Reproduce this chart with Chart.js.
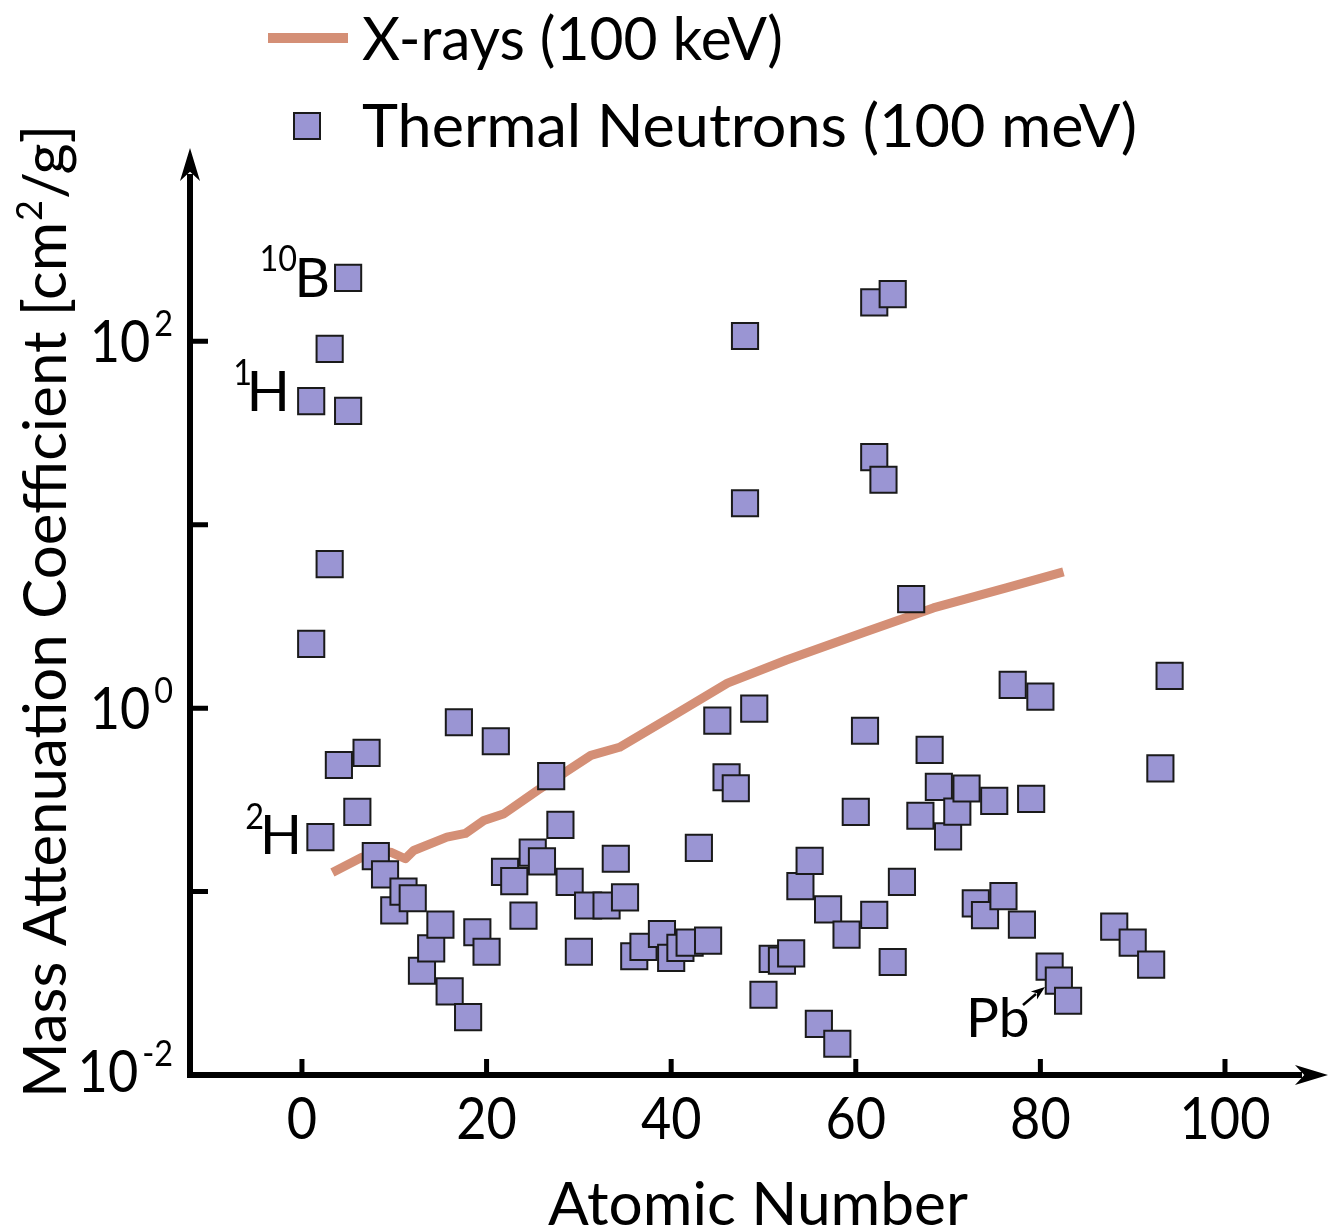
<!DOCTYPE html>
<html>
<head>
<meta charset="utf-8">
<script src="https://cdn.jsdelivr.net/npm/chart.js@4.4.0/dist/chart.umd.min.js"></script>
<style>
  body { margin: 0; background: #fff; }
  canvas { display: block; }
</style>
</head>
<body>
<canvas id="js--chart" width="1329" height="1230"></canvas>
<script>
// thermal neutrons (100 meV): atomic number and mass attenuation coefficient [cm2/g]
const neutronZ = [1, 1, 2, 3, 3, 4, 5, 5, 6, 7, 8, 9, 10, 11, 12, 13, 14, 15, 16, 17, 18, 19, 20,
  21, 22, 23, 24, 25, 26, 27, 28, 29, 30, 31, 33, 34, 35, 36, 37, 39, 40, 41, 42, 43, 44, 45,
  46, 47, 48, 48, 49, 50, 51, 52, 53, 54, 55, 56, 57, 58, 59, 60, 61, 62, 62, 62, 63, 64, 64,
  65, 66, 67, 68, 69, 70, 71, 72, 73, 74, 75, 76, 77, 78, 79, 80, 81, 82, 83, 88, 90, 92, 93, 94];
const neutronMu = [47.2, 2.24, 0.198, 91, 6.1, 0.49, 222, 41.8, 0.272, 0.57, 0.156, 0.124, 0.079,
  0.100, 0.092, 0.037, 0.049, 0.066, 0.0286, 0.838, 0.0207, 0.060, 0.047,
  0.66, 0.128, 0.114, 0.074, 0.163, 0.146, 0.426, 0.231, 0.113, 0.047, 0.084, 0.084, 0.151,
  0.093, 0.0444, 0.050, 0.0587, 0.0435, 0.0493, 0.0527, 0.173, 0.054, 0.855,
  0.42, 0.366, 107, 13.1, 0.995, 0.0274, 0.043, 0.042, 0.046, 0.107, 0.147, 0.019, 0.080,
  0.0148, 0.0583, 0.272, 0.753, 163, 23.4, 0.0746, 17.6, 181, 0.0413,
  0.113, 3.93, 0.259, 0.593, 0.372, 0.200, 0.273, 0.365, 0.0862, 0.0744, 0.312, 0.0945, 1.34,
  0.066, 0.32, 1.156, 0.039, 0.0327, 0.0254, 0.0644, 0.0527, 0.040, 0.47, 1.50];

// x-rays (100 keV)
const xrayZ = [3.3, 6.5, 9.6, 11.2, 12.1, 15.7, 17.7, 19.7, 21.9, 25.5, 31.3, 34.4, 40.3, 46.1,
  52.5, 61, 68.4, 76.3, 82.5];
const xrayMu = [0.127, 0.154, 0.164, 0.151, 0.1675, 0.198, 0.2075, 0.244, 0.266, 0.356, 0.553,
  0.612, 0.916, 1.37, 1.83, 2.60, 3.52, 4.53, 5.53];

// ticks
const xTickValues = [0, 20, 40, 60, 80, 100];
const xTickLabels = ['0', '20', '40', '60', '80', '100'];
const yTickValues = [0.01, 0.1, 1, 10, 100];
const yLabelValues = [100, 1, 0.01];
const yLabelExp = ['2', '0', '-2'];

const FONT = 'Lato, "Open Sans", sans-serif';
const LINE_COLOR = '#d48f76';
const SQ_FILL = '#9a95d3';
const SQ_EDGE = '#1a1a1a';

function text(ctx, s, x, y, size, opts) {
  opts = opts || {};
  ctx.save();
  ctx.font = size + 'px ' + FONT;
  const w = ctx.measureText(s).width;
  const k = opts.width ? opts.width / w : (opts.hs || 1);
  ctx.translate(x, y);
  ctx.scale(k, 1);
  let dx = 0;
  if (opts.align === 'right') dx = -w;
  if (opts.align === 'center') dx = -w / 2;
  ctx.fillText(s, dx, 0);
  ctx.restore();
  return w * k;
}

function textWidth(ctx, s, size, hs) {
  ctx.save();
  ctx.font = size + 'px ' + FONT;
  const w = ctx.measureText(s).width;
  ctx.restore();
  return w * (hs || 1);
}

function arrowHead(ctx, tx, ty, dx, dy, len, half) {
  const nx = -dy, ny = dx;
  ctx.beginPath();
  ctx.moveTo(tx, ty);
  ctx.lineTo(tx - dx * len + nx * half, ty - dy * len + ny * half);
  ctx.lineTo(tx - dx * len * 0.72, ty - dy * len * 0.72);
  ctx.lineTo(tx - dx * len - nx * half, ty - dy * len - ny * half);
  ctx.closePath();
  ctx.fill();
}

const decorations = {
  id: 'decorations',
  afterDraw(chart) {
    const ctx = chart.ctx;
    const xs = chart.scales.x, ys = chart.scales.y;
    const a = chart.chartArea;
    const x0 = a.left, y0 = a.bottom;
    ctx.save();
    ctx.strokeStyle = '#000';
    ctx.fillStyle = '#000';

    // axes with arrows
    ctx.lineWidth = 6;
    ctx.beginPath();
    ctx.moveTo(x0, y0 + 3);
    ctx.lineTo(x0, a.top + 26);
    ctx.moveTo(x0 - 3, y0);
    ctx.lineTo(a.right - 26, y0);
    ctx.stroke();
    arrowHead(ctx, x0, a.top, 0, -1, 33, 10);
    arrowHead(ctx, a.right, y0, 1, 0, 33, 10);

    // ticks
    ctx.lineWidth = 5;
    ctx.beginPath();
    yTickValues.forEach(v => {
      const y = ys.getPixelForValue(v);
      ctx.moveTo(x0, y);
      ctx.lineTo(x0 + 18, y);
    });
    xTickValues.forEach(v => {
      const x = xs.getPixelForValue(v);
      ctx.moveTo(x, y0);
      ctx.lineTo(x, y0 - 16);
    });
    ctx.stroke();

    // tick labels
    xTickValues.forEach((v, i) => {
      text(ctx, xTickLabels[i], xs.getPixelForValue(v), y0 + 64, 58, { hs: 0.9, align: 'center' });
    });
    yLabelValues.forEach((v, i) => {
      const y = ys.getPixelForValue(v);
      const base = y + (v === 0.01 ? 17 : 21);
      const supW = textWidth(ctx, yLabelExp[i], 36, 0.9);
      const right = 173;
      text(ctx, yLabelExp[i], right - supW, base - 26, 36, { hs: 0.9 });
      text(ctx, '10', right - supW - 4, base, 58, { hs: 0.9, align: 'right' });
    });

    // axis titles
    text(ctx, 'Atomic Number', 548, 1225, 60, { width: 420 });
    ctx.save();
    ctx.translate(66, 1098);
    ctx.rotate(-Math.PI / 2);
    const t1 = 'Mass Attenuation Coefficient [cm', t2 = '2', t3 = '/g]';
    const w1 = textWidth(ctx, t1, 60), w2 = textWidth(ctx, t2, 36), w3 = textWidth(ctx, t3, 60);
    const k = 973 / (w1 + w2 + w3 + 2);
    ctx.scale(k, 1);
    ctx.font = '60px ' + FONT;
    ctx.fillText(t1, 0, 0);
    ctx.font = '36px ' + FONT;
    ctx.fillText(t2, w1 + 1, -24);
    ctx.font = '60px ' + FONT;
    ctx.fillText(t3, w1 + w2 + 2, 0);
    ctx.restore();

    // legend
    ctx.strokeStyle = LINE_COLOR;
    ctx.lineWidth = 10;
    ctx.beginPath();
    ctx.moveTo(268, 38);
    ctx.lineTo(348, 38);
    ctx.stroke();
    text(ctx, 'X-rays (100 keV)', 362, 60, 60, { width: 421 });
    ctx.fillStyle = SQ_FILL;
    ctx.strokeStyle = SQ_EDGE;
    ctx.lineWidth = 2;
    ctx.fillRect(294, 113, 26, 26);
    ctx.strokeRect(294, 113, 26, 26);
    ctx.fillStyle = '#000';
    text(ctx, 'Thermal Neutrons (100 meV)', 362, 147, 60, { width: 775 });

    // annotations
    text(ctx, 'B', 330, 297, 55, { align: 'right' });
    text(ctx, '10', 297, 271, 36, { hs: 0.9, align: 'right' });
    text(ctx, 'H', 290, 411, 57, { align: 'right' });
    text(ctx, '1', 252, 385, 36, { hs: 0.9, align: 'right' });
    text(ctx, 'H', 302, 854, 55, { align: 'right' });
    text(ctx, '2', 264, 829, 36, { hs: 0.9, align: 'right' });
    text(ctx, 'Pb', 966, 1037, 55);
    ctx.strokeStyle = '#000';
    ctx.lineWidth = 2.5;
    ctx.beginPath();
    ctx.moveTo(1023, 1005);
    ctx.lineTo(1036, 994);
    ctx.stroke();
    const ang = Math.atan2(-17, 22);
    arrowHead(ctx, 1045, 987, Math.cos(ang), Math.sin(ang), 14, 5);

    ctx.restore();
  }
};

new Chart(document.getElementById('js--chart'), {
  type: 'scatter',
  data: {
    datasets: [
      {
        label: 'Thermal Neutrons (100 meV)',
        data: neutronZ.map((z, i) => ({ x: z, y: neutronMu[i] })),
        pointStyle: 'rect',
        pointRadius: 18.5,
        backgroundColor: SQ_FILL,
        borderColor: SQ_EDGE,
        borderWidth: 2,
        order: 0
      },
      {
        label: 'X-rays (100 keV)',
        data: xrayZ.map((z, i) => ({ x: z, y: xrayMu[i] })),
        showLine: true,
        pointRadius: 0,
        borderColor: LINE_COLOR,
        borderWidth: 9,
        borderJoinStyle: 'round',
        borderCapStyle: 'butt',
        tension: 0,
        order: 1
      }
    ]
  },
  options: {
    responsive: false,
    animation: false,
    layout: { autoPadding: false, padding: { left: 190, top: 148, right: 1, bottom: 155 } },
    scales: {
      x: { type: 'linear', min: -12.13, max: 111.16, display: false },
      y: { type: 'logarithmic', min: 0.01, max: 1133, display: false }
    },
    plugins: {
      legend: { display: false },
      tooltip: { enabled: false }
    }
  },
  plugins: [decorations]
});
</script>
</body>
</html>
